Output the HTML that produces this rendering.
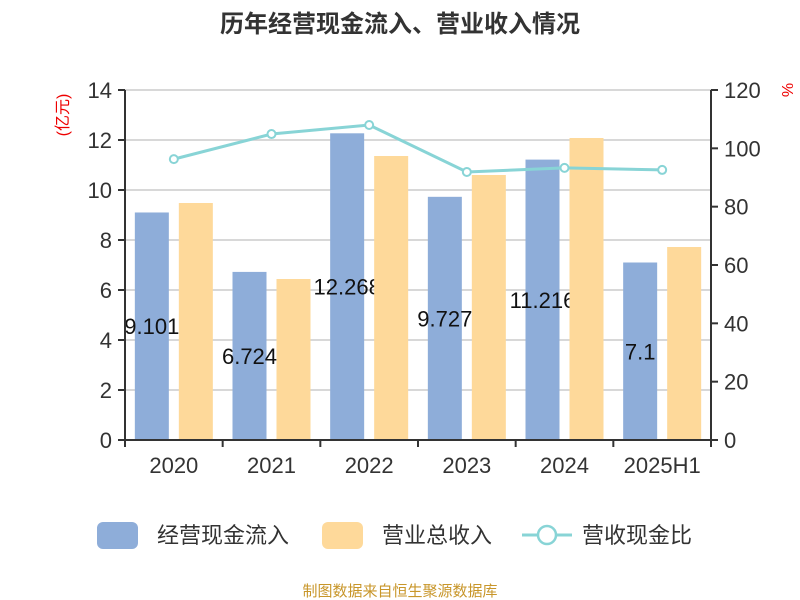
<!DOCTYPE html>
<html><head><meta charset="utf-8"><style>
body{margin:0;background:#fff}
svg{display:block;font-family:"Liberation Sans","Noto Sans CJK SC",sans-serif}
</style></head><body>
<svg id="chart" width="800" height="600">
<text x="400" y="32" text-anchor="middle" font-size="24" font-weight="bold" fill="#333">历年经营现金流入、营业收入情况</text>
<g id="grid"></g><g id="bars"></g><g id="axes"></g><g id="line"></g>
<text transform="translate(68,115) rotate(-90)" text-anchor="middle" font-size="16" fill="#e00">(亿元)</text>
<text transform="translate(782,90) rotate(90)" text-anchor="middle" font-size="16" fill="#e00">%</text>
<g>
<rect x="97" y="522" width="41" height="27" rx="6" fill="#8eadd9"/>
<text x="157" y="543" font-size="22" fill="#333">经营现金流入</text>
<rect x="322" y="522" width="41" height="27" rx="6" fill="#fed99a"/>
<text x="382" y="543" font-size="22" fill="#333">营业总收入</text>
<line x1="522" y1="535" x2="572" y2="535" stroke="#88d4d6" stroke-width="3"/>
<circle cx="547" cy="535" r="9" fill="#fff" stroke="#88d4d6" stroke-width="2.5"/>
<text x="582" y="543" font-size="22" fill="#333">营收现金比</text>
</g>
<text x="400" y="596" text-anchor="middle" font-size="15" fill="#c8962a">制图数据来自恒生聚源数据库</text>
</svg>
<script>
const categories=["2020","2021","2022","2023","2024","2025H1"];
const cashInflow=[9.101,6.724,12.268,9.727,11.216,7.1];
const revenue=[9.48,6.44,11.36,10.6,12.08,7.72];
const ratio=[96.3,104.9,108,91.9,93.3,92.6];
const leftTicks=[0,2,4,6,8,10,12,14];
const rightTicks=[0,20,40,60,80,100,120];
const NS="http://www.w3.org/2000/svg";
const X0=125,X1=711,Y0=440,Y1=90;
const bw=(X1-X0)/categories.length;
const yL=v=>Y0-(v/14)*(Y0-Y1);
const yR=v=>Y0-(v/120)*(Y0-Y1);
const cx=i=>X0+bw*(i+0.5);
function mk(parent,tag,attrs){const e=document.createElementNS(NS,tag);for(const k in attrs)e.setAttribute(k,attrs[k]);document.getElementById(parent).appendChild(e);return e;}
leftTicks.forEach(t=>{
 if(t>0){const g=mk('grid','line',{x1:X0,x2:X1,y1:yL(t),y2:yL(t),stroke:'#ccc','stroke-width':1.5});
 
 }
 const tk=mk('axes','line',{x1:X0-7,x2:X0,y1:yL(t),y2:yL(t),stroke:'#333','stroke-width':2});
 
 
 const tx=mk('axes','text',{x:X0-13,y:yL(t)+8,'text-anchor':'end','font-size':22,fill:'#333'});tx.textContent=t;
 
 
});
rightTicks.forEach(t=>{
 const tk=mk('axes','line',{x1:X1,x2:X1+7,y1:yR(t),y2:yR(t),stroke:'#333','stroke-width':2});
 
 
 const tx=mk('axes','text',{x:X1+13,y:yR(t)+8,'font-size':22,fill:'#333'});tx.textContent=t;
 
 
});
categories.forEach((c,i)=>{
 const b=mk('bars','rect',{x:cx(i)-39,y:yL(cashInflow[i]),width:34,height:Y0-yL(cashInflow[i]),fill:'#8eadd9'});
 
 
 const l=mk('bars','text',{x:cx(i)-22,y:(yL(cashInflow[i])+Y0)/2+8,'text-anchor':'middle','font-size':22,fill:'#111'});l.textContent=cashInflow[i];
 
 
});
categories.forEach((c,i)=>{
 const b=mk('bars','rect',{x:cx(i)+5,y:yL(revenue[i]),width:34,height:Y0-yL(revenue[i]),fill:'#fed99a'});
 
 
 const tk=mk('axes','line',{x1:X0+bw*i,x2:X0+bw*i,y1:Y0,y2:Y0+7,stroke:'#333','stroke-width':2});
 
 
 const tx=mk('axes','text',{x:cx(i),y:Y0+33,'text-anchor':'middle','font-size':22,fill:'#333'});tx.textContent=c;
 
 
});
const tkE=mk('axes','line',{x1:X1,x2:X1,y1:Y0,y2:Y0+7,stroke:'#333','stroke-width':2});


const la=mk('axes','line',{x1:X0,x2:X0,y1:Y1,y2:Y0,stroke:'#333','stroke-width':2});


const ra=mk('axes','line',{x1:X1,x2:X1,y1:Y1,y2:Y0,stroke:'#333','stroke-width':2});


const xa=mk('axes','line',{x1:X0,x2:X1,y1:Y0,y2:Y0,stroke:'#333','stroke-width':2});


const pl=mk('line','polyline',{points:ratio.map((v,i)=>cx(i)+','+yR(v)).join(' '),fill:'none',stroke:'#88d4d6','stroke-width':3});


ratio.forEach((v,i)=>{
 const p=mk('line','circle',{cx:cx(i),cy:yR(v),r:4,fill:'#fff',stroke:'#88d4d6','stroke-width':2});
 
 
});
</script>
</body></html>
